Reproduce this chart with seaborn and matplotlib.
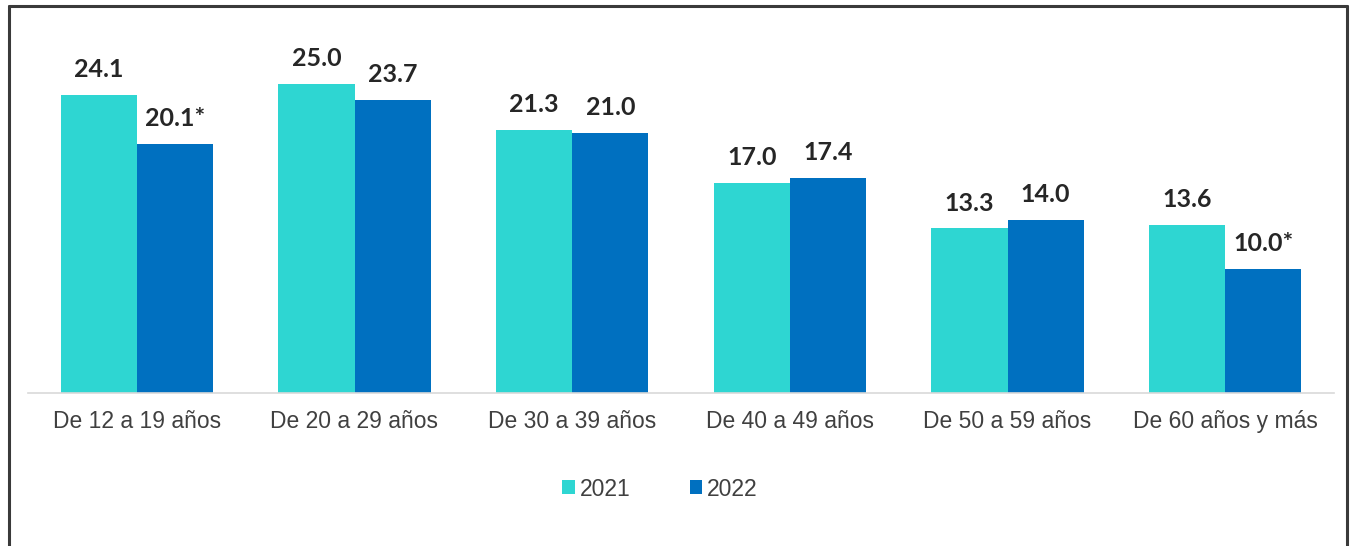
import matplotlib
matplotlib.use("Agg")
import matplotlib.pyplot as plt
from matplotlib.lines import Line2D
from matplotlib.patches import Patch
import seaborn as sns
import pandas as pd

categories = ["De 12 a 19 años", "De 20 a 29 años", "De 30 a 39 años",
              "De 40 a 49 años", "De 50 a 59 años", "De 60 años y más"]
years = ["2021", "2022"]
values_2021 = [24.1, 25.0, 21.3, 17.0, 13.3, 13.6]
values_2022 = [20.1, 23.7, 21.0, 17.4, 14.0, 10.0]
labels_2021 = ["24.1", "25.0", "21.3", "17.0", "13.3", "13.6"]
labels_2022 = ["20.1*", "23.7", "21.0", "17.4", "14.0", "10.0*"]
colors = ["#2ED6D2", "#0070C0"]

df = pd.DataFrame({
    "cat": categories * 2,
    "year": [years[0]] * len(categories) + [years[1]] * len(categories),
    "val": values_2021 + values_2022,
})

sns.set_theme(style="white")
plt.rcParams["font.family"] = ["Liberation Sans", "DejaVu Sans"]

W, H = 1355, 546
fig = plt.figure(figsize=(W / 100, H / 100), dpi=100)
ax = fig.add_axes([28 / W, 1 - 393 / H, (1334 - 28) / W, (393 - 30) / H])

sns.barplot(data=df, x="cat", y="val", hue="year", order=categories,
            hue_order=years, palette=colors, width=0.7, saturation=1,
            edgecolor="none", linewidth=0, ax=ax, legend=False)

ax.set_xlim(-0.5, len(categories) - 0.5)
ax.set_ylim(0, (393 - 30) / 12.37)
ax.set_xlabel("")
ax.set_ylabel("")
ax.set_yticks([])
for s in ["top", "right", "left"]:
    ax.spines[s].set_visible(False)
ax.spines["bottom"].set_color("#D9D9D9")
ax.spines["bottom"].set_linewidth(1.2)
ax.tick_params(axis="x", length=0, pad=12, labelsize=16.5, labelcolor="#404040")

for cont, labs in zip(ax.containers, [labels_2021, labels_2022]):
    ax.bar_label(cont, labels=labs, padding=10, fontsize=18, fontweight="bold",
                 color="#262626", family=["Lato", "DejaVu Sans"])

handles = [Patch(facecolor=c, edgecolor="none") for c in colors]
fig.legend(handles, years, loc="center", bbox_to_anchor=(660 / W, 1 - 489 / H),
           ncol=2, frameon=False, fontsize=16.5, handlelength=0.55,
           handleheight=0.55, handletextpad=0.2, columnspacing=2.6,
           labelcolor="#404040")

# outer frame (left, top, right)
lw = 2.2
fig.add_artist(Line2D([9 / W, 9 / W], [0, 1 - 6 / H], transform=fig.transFigure,
                      color="#3A3A3A", linewidth=lw))
fig.add_artist(Line2D([1347 / W, 1347 / W], [0, 1 - 6 / H], transform=fig.transFigure,
                      color="#3A3A3A", linewidth=lw))
fig.add_artist(Line2D([9 / W, 1347 / W], [1 - 6 / H, 1 - 6 / H], transform=fig.transFigure,
                      color="#3A3A3A", linewidth=lw))

fig.savefig("out.png", dpi=100, facecolor="white")
